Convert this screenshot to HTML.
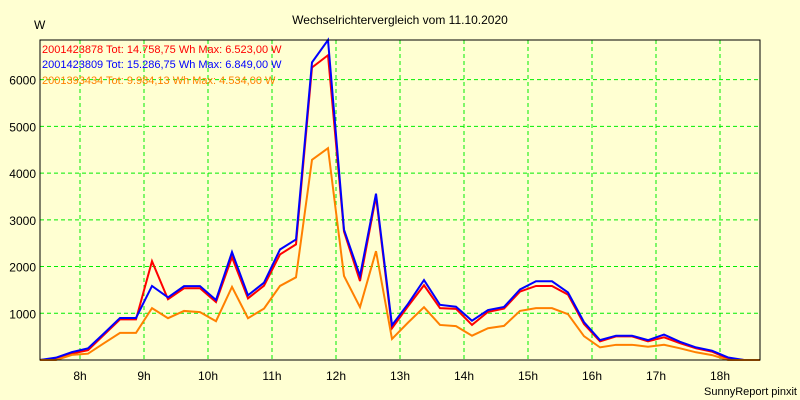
<!DOCTYPE html>
<html><head><meta charset="utf-8"><style>
html,body{margin:0;padding:0;background:#FFFFD2;}
svg{display:block;font-family:"Liberation Sans",sans-serif;}
</style></head><body>
<svg id="c" width="800" height="400">
<rect width="800" height="400" fill="#FFFFD2"/>
<text x="400" y="24" font-size="12" text-anchor="middle">Wechselrichtervergleich vom 11.10.2020</text>
<text x="34" y="29" font-size="12">W</text>
<g id="grid"></g><g id="ticks"></g><g id="series"></g>
<rect x="40" y="40" width="720" height="320" fill="none" stroke="#000" stroke-width="1"/>
<text x="42" y="53" font-size="11" fill="#ff0000">2001423878 Tot: 14.758,75 Wh Max: 6.523,00 W</text>
<text x="42" y="68" font-size="11" fill="#0000ff">2001423809 Tot: 15.286,75 Wh Max: 6.849,00 W</text>
<text x="42" y="84" font-size="11" fill="#ff8000">2001393434 Tot: 9.984,13 Wh Max: 4.534,00 W</text>
<text x="797" y="395" font-size="11" text-anchor="end">SunnyReport pinxit</text>
</svg>
<script>
const startHour = 7.375;
const stepHour = 0.25;
const hourTicks = ["8h","9h","10h","11h","12h","13h","14h","15h","16h","17h","18h"];
const hourTickValues = [8,9,10,11,12,13,14,15,16,17,18];
const yTicks = [1000,2000,3000,4000,5000,6000];
const seriesBlue = [0,50,170,250,570,900,900,1585,1340,1580,1580,1285,2310,1385,1655,2365,2580,6370,6849,2790,1800,3560,745,1200,1710,1180,1140,840,1070,1135,1510,1685,1685,1445,810,425,520,520,425,545,390,270,200,55,0,0];
const seriesRed = [0,30,140,210,540,870,870,2115,1300,1535,1535,1240,2200,1320,1590,2260,2475,6260,6523,2750,1690,3500,680,1150,1600,1110,1095,750,1030,1100,1465,1585,1585,1400,770,400,505,505,400,485,360,250,180,30,0,0];
const seriesOrange = [0,0,110,135,360,580,580,1110,895,1050,1025,830,1565,895,1100,1585,1770,4285,4534,1800,1130,2330,450,800,1130,750,725,520,680,730,1050,1110,1110,980,510,270,325,325,285,325,250,165,105,0,0,0];
const yMax = 6849;
const NS = "http://www.w3.org/2000/svg";
function xs(h){return 40 + (h - startHour) / (18.625 - startHour) * 720;}
function ys(v){return 360 - v / yMax * 320;}
const grid = document.getElementById('grid');
const ticks = document.getElementById('ticks');
yTicks.forEach(v=>{
  const l=document.createElementNS(NS,'line');
  l.setAttribute('x1',40);l.setAttribute('x2',760);l.setAttribute('y1',ys(v));l.setAttribute('y2',ys(v));
  l.setAttribute('stroke','#00ee00');l.setAttribute('stroke-dasharray','4,3');
  
  
  grid.appendChild(l);
  const t=document.createElementNS(NS,'text');
  t.setAttribute('x',36);t.setAttribute('y',ys(v)+5);t.setAttribute('font-size','12');t.setAttribute('text-anchor','end');
  t.textContent=v;
  
  
  ticks.appendChild(t);
});
hourTickValues.forEach((h,i)=>{
  const l=document.createElementNS(NS,'line');
  l.setAttribute('x1',xs(h));l.setAttribute('x2',xs(h));l.setAttribute('y1',40);l.setAttribute('y2',360);
  l.setAttribute('stroke','#00ee00');l.setAttribute('stroke-dasharray','4,3');
  
  
  grid.appendChild(l);
  const t=document.createElementNS(NS,'text');
  t.setAttribute('x',xs(h));t.setAttribute('y',380);t.setAttribute('font-size','12');t.setAttribute('text-anchor','middle');
  t.textContent=hourTicks[i];
  
  
  ticks.appendChild(t);
});
const sg=document.getElementById('series');
[[seriesRed,'#ff0000','series-red-line'],[seriesBlue,'#0000ff','series-blue-line'],[seriesOrange,'#ff8000','series-orange-line']].forEach(s=>{
  const p=document.createElementNS(NS,'polyline');
  p.setAttribute('points',s[0].map((v,i)=>xs(startHour+i*stepHour)+','+ys(v)).join(' '));
  p.setAttribute('fill','none');p.setAttribute('stroke',s[1]);p.setAttribute('stroke-width','2');
  
  
  sg.appendChild(p);
});
</script>
</body></html>
